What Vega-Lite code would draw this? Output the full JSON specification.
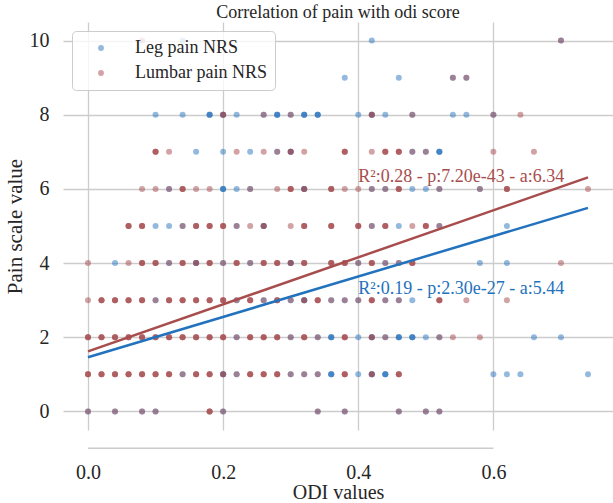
{
"$schema": "https://vega.github.io/schema/vega-lite/v6.json",
"width": 550, "height": 408,
"autosize": "none",
"padding": {"left": 63, "top": 22, "right": 0, "bottom": 73},
"background": "white",
"config": {"font": "Liberation Serif", "view": {"stroke": null},
  "axis": {"gridColor": "#cccccc", "gridWidth": 1.3, "labelColor": "#262626", "titleColor": "#262626", "titleFontWeight": "normal", "labelFontSize": 20, "titleFontSize": 21, "domain": false, "ticks": false}},
"title": {"text": "Correlation of pain with odi score", "fontSize": 18, "fontWeight": "normal", "color": "#262626", "offset": 0, "anchor": "middle"},
"datasets": {
"leg": [
{"odi":0.14,"pain":10},{"odi":0.42,"pain":10},{"odi":0.7,"pain":10},
{"odi":0.38,"pain":9},{"odi":0.46,"pain":9},{"odi":0.54,"pain":9},{"odi":0.56,"pain":9},
{"odi":0.1,"pain":8},{"odi":0.14,"pain":8},{"odi":0.18,"pain":8},{"odi":0.18,"pain":8},{"odi":0.18,"pain":8},{"odi":0.2,"pain":8},{"odi":0.2,"pain":8},{"odi":0.22,"pain":8},{"odi":0.26,"pain":8},{"odi":0.28,"pain":8},{"odi":0.28,"pain":8},{"odi":0.28,"pain":8},{"odi":0.3,"pain":8},{"odi":0.32,"pain":8},{"odi":0.32,"pain":8},{"odi":0.32,"pain":8},{"odi":0.34,"pain":8},{"odi":0.34,"pain":8},{"odi":0.34,"pain":8},{"odi":0.4,"pain":8},{"odi":0.42,"pain":8},{"odi":0.42,"pain":8},{"odi":0.44,"pain":8},{"odi":0.48,"pain":8},{"odi":0.54,"pain":8},{"odi":0.56,"pain":8},{"odi":0.6,"pain":8},
{"odi":0.16,"pain":7},{"odi":0.2,"pain":7},{"odi":0.24,"pain":7},{"odi":0.28,"pain":7},{"odi":0.3,"pain":7},{"odi":0.3,"pain":7},{"odi":0.48,"pain":7},{"odi":0.5,"pain":7},{"odi":0.52,"pain":7},{"odi":0.52,"pain":7},{"odi":0.52,"pain":7},
{"odi":0.12,"pain":6},{"odi":0.2,"pain":6},{"odi":0.2,"pain":6},{"odi":0.2,"pain":6},{"odi":0.22,"pain":6},{"odi":0.24,"pain":6},{"odi":0.32,"pain":6},{"odi":0.32,"pain":6},{"odi":0.42,"pain":6},{"odi":0.44,"pain":6},{"odi":0.48,"pain":6},{"odi":0.5,"pain":6},{"odi":0.52,"pain":6},{"odi":0.58,"pain":6},
{"odi":0.1,"pain":5},{"odi":0.12,"pain":5},{"odi":0.14,"pain":5},{"odi":0.22,"pain":5},{"odi":0.26,"pain":5},{"odi":0.26,"pain":5},{"odi":0.42,"pain":5},{"odi":0.46,"pain":5},{"odi":0.52,"pain":5},{"odi":0.62,"pain":5},
{"odi":0.04,"pain":4},{"odi":0.12,"pain":4},{"odi":0.16,"pain":4},{"odi":0.16,"pain":4},{"odi":0.2,"pain":4},{"odi":0.24,"pain":4},{"odi":0.3,"pain":4},{"odi":0.3,"pain":4},{"odi":0.4,"pain":4},{"odi":0.44,"pain":4},{"odi":0.46,"pain":4},{"odi":0.58,"pain":4},{"odi":0.62,"pain":4},
{"odi":0.1,"pain":3},{"odi":0.22,"pain":3},{"odi":0.26,"pain":3},{"odi":0.3,"pain":3},{"odi":0.32,"pain":3},{"odi":0.32,"pain":3},{"odi":0.36,"pain":3},{"odi":0.38,"pain":3},{"odi":0.4,"pain":3},{"odi":0.44,"pain":3},{"odi":0.46,"pain":3},{"odi":0.48,"pain":3},
{"odi":0.22,"pain":2},{"odi":0.3,"pain":2},{"odi":0.34,"pain":2},{"odi":0.36,"pain":2},{"odi":0.36,"pain":2},{"odi":0.36,"pain":2},{"odi":0.4,"pain":2},{"odi":0.42,"pain":2},{"odi":0.42,"pain":2},{"odi":0.44,"pain":2},{"odi":0.46,"pain":2},{"odi":0.46,"pain":2},{"odi":0.46,"pain":2},{"odi":0.48,"pain":2},{"odi":0.48,"pain":2},{"odi":0.48,"pain":2},{"odi":0.5,"pain":2},{"odi":0.52,"pain":2},{"odi":0.66,"pain":2},{"odi":0.7,"pain":2},
{"odi":0.14,"pain":1},{"odi":0.2,"pain":1},{"odi":0.2,"pain":1},{"odi":0.22,"pain":1},{"odi":0.3,"pain":1},{"odi":0.32,"pain":1},{"odi":0.34,"pain":1},{"odi":0.36,"pain":1},{"odi":0.36,"pain":1},{"odi":0.36,"pain":1},{"odi":0.4,"pain":1},{"odi":0.42,"pain":1},{"odi":0.42,"pain":1},{"odi":0.44,"pain":1},{"odi":0.44,"pain":1},{"odi":0.44,"pain":1},{"odi":0.6,"pain":1},{"odi":0.62,"pain":1},{"odi":0.64,"pain":1},{"odi":0.74,"pain":1},
{"odi":0,"pain":0},{"odi":0.04,"pain":0},{"odi":0.08,"pain":0},{"odi":0.1,"pain":0},{"odi":0.2,"pain":0},{"odi":0.34,"pain":0},{"odi":0.38,"pain":0},{"odi":0.46,"pain":0},{"odi":0.5,"pain":0},{"odi":0.52,"pain":0}
],
"lum": [
{"odi":0.08,"pain":10},{"odi":0.7,"pain":10},
{"odi":0.54,"pain":9},{"odi":0.56,"pain":9},
{"odi":0.2,"pain":8},{"odi":0.2,"pain":8},{"odi":0.26,"pain":8},{"odi":0.3,"pain":8},{"odi":0.42,"pain":8},{"odi":0.42,"pain":8},{"odi":0.48,"pain":8},{"odi":0.6,"pain":8},{"odi":0.64,"pain":8},
{"odi":0.1,"pain":7},{"odi":0.1,"pain":7},{"odi":0.1,"pain":7},{"odi":0.12,"pain":7},{"odi":0.22,"pain":7},{"odi":0.26,"pain":7},{"odi":0.28,"pain":7},{"odi":0.3,"pain":7},{"odi":0.3,"pain":7},{"odi":0.32,"pain":7},{"odi":0.38,"pain":7},{"odi":0.38,"pain":7},{"odi":0.38,"pain":7},{"odi":0.42,"pain":7},{"odi":0.44,"pain":7},{"odi":0.44,"pain":7},{"odi":0.44,"pain":7},{"odi":0.46,"pain":7},{"odi":0.46,"pain":7},{"odi":0.46,"pain":7},{"odi":0.48,"pain":7},{"odi":0.5,"pain":7},{"odi":0.6,"pain":7},{"odi":0.66,"pain":7},
{"odi":0.08,"pain":6},{"odi":0.1,"pain":6},{"odi":0.12,"pain":6},{"odi":0.14,"pain":6},{"odi":0.14,"pain":6},{"odi":0.14,"pain":6},{"odi":0.16,"pain":6},{"odi":0.18,"pain":6},{"odi":0.24,"pain":6},{"odi":0.28,"pain":6},{"odi":0.3,"pain":6},{"odi":0.3,"pain":6},{"odi":0.3,"pain":6},{"odi":0.32,"pain":6},{"odi":0.32,"pain":6},{"odi":0.36,"pain":6},{"odi":0.36,"pain":6},{"odi":0.36,"pain":6},{"odi":0.38,"pain":6},{"odi":0.4,"pain":6},{"odi":0.42,"pain":6},{"odi":0.44,"pain":6},{"odi":0.46,"pain":6},{"odi":0.46,"pain":6},{"odi":0.46,"pain":6},{"odi":0.52,"pain":6},{"odi":0.58,"pain":6},{"odi":0.62,"pain":6},{"odi":0.62,"pain":6},{"odi":0.62,"pain":6},{"odi":0.74,"pain":6},
{"odi":0.06,"pain":5},{"odi":0.06,"pain":5},{"odi":0.06,"pain":5},{"odi":0.08,"pain":5},{"odi":0.08,"pain":5},{"odi":0.08,"pain":5},{"odi":0.14,"pain":5},{"odi":0.16,"pain":5},{"odi":0.16,"pain":5},{"odi":0.16,"pain":5},{"odi":0.18,"pain":5},{"odi":0.18,"pain":5},{"odi":0.18,"pain":5},{"odi":0.2,"pain":5},{"odi":0.2,"pain":5},{"odi":0.2,"pain":5},{"odi":0.22,"pain":5},{"odi":0.24,"pain":5},{"odi":0.26,"pain":5},{"odi":0.26,"pain":5},{"odi":0.3,"pain":5},{"odi":0.32,"pain":5},{"odi":0.32,"pain":5},{"odi":0.32,"pain":5},{"odi":0.36,"pain":5},{"odi":0.36,"pain":5},{"odi":0.36,"pain":5},{"odi":0.4,"pain":5},{"odi":0.4,"pain":5},{"odi":0.4,"pain":5},{"odi":0.42,"pain":5},{"odi":0.44,"pain":5},{"odi":0.44,"pain":5},{"odi":0.44,"pain":5},{"odi":0.48,"pain":5},{"odi":0.5,"pain":5},{"odi":0.5,"pain":5},{"odi":0.5,"pain":5},{"odi":0.52,"pain":5},
{"odi":0,"pain":4},{"odi":0.06,"pain":4},{"odi":0.08,"pain":4},{"odi":0.08,"pain":4},{"odi":0.08,"pain":4},{"odi":0.1,"pain":4},{"odi":0.1,"pain":4},{"odi":0.1,"pain":4},{"odi":0.12,"pain":4},{"odi":0.14,"pain":4},{"odi":0.14,"pain":4},{"odi":0.14,"pain":4},{"odi":0.16,"pain":4},{"odi":0.16,"pain":4},{"odi":0.18,"pain":4},{"odi":0.18,"pain":4},{"odi":0.18,"pain":4},{"odi":0.2,"pain":4},{"odi":0.22,"pain":4},{"odi":0.22,"pain":4},{"odi":0.22,"pain":4},{"odi":0.24,"pain":4},{"odi":0.26,"pain":4},{"odi":0.26,"pain":4},{"odi":0.26,"pain":4},{"odi":0.28,"pain":4},{"odi":0.28,"pain":4},{"odi":0.28,"pain":4},{"odi":0.3,"pain":4},{"odi":0.3,"pain":4},{"odi":0.32,"pain":4},{"odi":0.32,"pain":4},{"odi":0.32,"pain":4},{"odi":0.36,"pain":4},{"odi":0.36,"pain":4},{"odi":0.36,"pain":4},{"odi":0.38,"pain":4},{"odi":0.38,"pain":4},{"odi":0.38,"pain":4},{"odi":0.4,"pain":4},{"odi":0.42,"pain":4},{"odi":0.42,"pain":4},{"odi":0.42,"pain":4},{"odi":0.44,"pain":4},{"odi":0.46,"pain":4},{"odi":0.48,"pain":4},{"odi":0.48,"pain":4},{"odi":0.48,"pain":4},{"odi":0.7,"pain":4},
{"odi":0,"pain":3},{"odi":0.02,"pain":3},{"odi":0.02,"pain":3},{"odi":0.02,"pain":3},{"odi":0.04,"pain":3},{"odi":0.04,"pain":3},{"odi":0.04,"pain":3},{"odi":0.06,"pain":3},{"odi":0.06,"pain":3},{"odi":0.06,"pain":3},{"odi":0.08,"pain":3},{"odi":0.08,"pain":3},{"odi":0.08,"pain":3},{"odi":0.1,"pain":3},{"odi":0.12,"pain":3},{"odi":0.12,"pain":3},{"odi":0.12,"pain":3},{"odi":0.14,"pain":3},{"odi":0.14,"pain":3},{"odi":0.14,"pain":3},{"odi":0.16,"pain":3},{"odi":0.16,"pain":3},{"odi":0.16,"pain":3},{"odi":0.18,"pain":3},{"odi":0.18,"pain":3},{"odi":0.18,"pain":3},{"odi":0.2,"pain":3},{"odi":0.2,"pain":3},{"odi":0.2,"pain":3},{"odi":0.22,"pain":3},{"odi":0.24,"pain":3},{"odi":0.24,"pain":3},{"odi":0.24,"pain":3},{"odi":0.26,"pain":3},{"odi":0.28,"pain":3},{"odi":0.28,"pain":3},{"odi":0.28,"pain":3},{"odi":0.3,"pain":3},{"odi":0.32,"pain":3},{"odi":0.32,"pain":3},{"odi":0.34,"pain":3},{"odi":0.34,"pain":3},{"odi":0.34,"pain":3},{"odi":0.36,"pain":3},{"odi":0.38,"pain":3},{"odi":0.4,"pain":3},{"odi":0.42,"pain":3},{"odi":0.42,"pain":3},{"odi":0.42,"pain":3},{"odi":0.44,"pain":3},{"odi":0.46,"pain":3},{"odi":0.52,"pain":3},{"odi":0.52,"pain":3},{"odi":0.52,"pain":3},{"odi":0.56,"pain":3},{"odi":0.62,"pain":3},
{"odi":0,"pain":2},{"odi":0,"pain":2},{"odi":0,"pain":2},{"odi":0.02,"pain":2},{"odi":0.02,"pain":2},{"odi":0.02,"pain":2},{"odi":0.04,"pain":2},{"odi":0.04,"pain":2},{"odi":0.04,"pain":2},{"odi":0.06,"pain":2},{"odi":0.06,"pain":2},{"odi":0.06,"pain":2},{"odi":0.08,"pain":2},{"odi":0.08,"pain":2},{"odi":0.08,"pain":2},{"odi":0.1,"pain":2},{"odi":0.1,"pain":2},{"odi":0.1,"pain":2},{"odi":0.12,"pain":2},{"odi":0.12,"pain":2},{"odi":0.12,"pain":2},{"odi":0.14,"pain":2},{"odi":0.14,"pain":2},{"odi":0.14,"pain":2},{"odi":0.16,"pain":2},{"odi":0.16,"pain":2},{"odi":0.16,"pain":2},{"odi":0.18,"pain":2},{"odi":0.18,"pain":2},{"odi":0.18,"pain":2},{"odi":0.2,"pain":2},{"odi":0.2,"pain":2},{"odi":0.2,"pain":2},{"odi":0.22,"pain":2},{"odi":0.24,"pain":2},{"odi":0.24,"pain":2},{"odi":0.24,"pain":2},{"odi":0.26,"pain":2},{"odi":0.26,"pain":2},{"odi":0.26,"pain":2},{"odi":0.28,"pain":2},{"odi":0.28,"pain":2},{"odi":0.28,"pain":2},{"odi":0.3,"pain":2},{"odi":0.32,"pain":2},{"odi":0.32,"pain":2},{"odi":0.32,"pain":2},{"odi":0.34,"pain":2},{"odi":0.38,"pain":2},{"odi":0.38,"pain":2},{"odi":0.38,"pain":2},{"odi":0.42,"pain":2},{"odi":0.42,"pain":2},{"odi":0.44,"pain":2},{"odi":0.52,"pain":2},{"odi":0.54,"pain":2},{"odi":0.58,"pain":2},
{"odi":0,"pain":1},{"odi":0,"pain":1},{"odi":0,"pain":1},{"odi":0.02,"pain":1},{"odi":0.02,"pain":1},{"odi":0.02,"pain":1},{"odi":0.04,"pain":1},{"odi":0.04,"pain":1},{"odi":0.04,"pain":1},{"odi":0.06,"pain":1},{"odi":0.06,"pain":1},{"odi":0.06,"pain":1},{"odi":0.08,"pain":1},{"odi":0.08,"pain":1},{"odi":0.08,"pain":1},{"odi":0.1,"pain":1},{"odi":0.1,"pain":1},{"odi":0.1,"pain":1},{"odi":0.12,"pain":1},{"odi":0.12,"pain":1},{"odi":0.12,"pain":1},{"odi":0.14,"pain":1},{"odi":0.16,"pain":1},{"odi":0.16,"pain":1},{"odi":0.16,"pain":1},{"odi":0.18,"pain":1},{"odi":0.18,"pain":1},{"odi":0.18,"pain":1},{"odi":0.2,"pain":1},{"odi":0.2,"pain":1},{"odi":0.22,"pain":1},{"odi":0.24,"pain":1},{"odi":0.24,"pain":1},{"odi":0.24,"pain":1},{"odi":0.26,"pain":1},{"odi":0.26,"pain":1},{"odi":0.26,"pain":1},{"odi":0.28,"pain":1},{"odi":0.28,"pain":1},{"odi":0.28,"pain":1},{"odi":0.3,"pain":1},{"odi":0.32,"pain":1},{"odi":0.34,"pain":1},{"odi":0.38,"pain":1},{"odi":0.38,"pain":1},{"odi":0.38,"pain":1},{"odi":0.42,"pain":1},{"odi":0.42,"pain":1},{"odi":0.46,"pain":1},{"odi":0.46,"pain":1},{"odi":0.46,"pain":1},
{"odi":0,"pain":0},{"odi":0.04,"pain":0},{"odi":0.08,"pain":0},{"odi":0.1,"pain":0},{"odi":0.18,"pain":0},{"odi":0.18,"pain":0},{"odi":0.18,"pain":0},{"odi":0.2,"pain":0},{"odi":0.34,"pain":0},{"odi":0.38,"pain":0},{"odi":0.46,"pain":0},{"odi":0.5,"pain":0},{"odi":0.52,"pain":0}
]
},
"layer": [
{"data": {"name": "leg"},
 "mark": {"type": "circle", "size": 36, "opacity": 0.5},
 "encoding": {
  "x": {"field": "odi", "type": "quantitative", "scale": {"domain": [-0.037, 0.777], "nice": false, "zero": false},
        "axis": {"values": [0, 0.2, 0.4, 0.6], "format": ".1f", "offset": 18, "labelPadding": 14, "title": "ODI values", "titleFontSize": 20, "titlePadding": 0}},
  "y": {"field": "pain", "type": "quantitative", "scale": {"domain": [-0.5, 10.5], "nice": false, "zero": false},
        "axis": {"values": [0, 2, 4, 6, 8, 10], "labelPadding": 14, "title": "Pain scale value", "titlePadding": 4}},
  "color": {"datum": "Leg pain NRS", "type": "nominal",
   "scale": {"domain": ["Leg pain NRS", "Lumbar pain NRS"], "range": ["#2a74be", "#a3474b"]},
   "legend": {"orient": "none", "legendX": 9, "legendY": 9, "title": null, "labelFontSize": 18, "labelColor": "#262626",
     "symbolType": "circle", "symbolSize": 34, "symbolOpacity": 0.5, "padding": 8, "rowPadding": 7,
     "symbolOffset": 12, "labelOffset": 25, "strokeColor": "#cccccc", "fillColor": "rgba(255,255,255,0.8)", "cornerRadius": 4}}
 }},
{"data": {"name": "lum"},
 "mark": {"type": "circle", "size": 36, "opacity": 0.5},
 "encoding": {
  "x": {"field": "odi", "type": "quantitative"},
  "y": {"field": "pain", "type": "quantitative"},
  "color": {"datum": "Lumbar pain NRS", "type": "nominal"}
 }},
{"data": {"values": [{"odi": 0, "pain": 1.46}, {"odi": 0.74, "pain": 5.49}]},
 "mark": {"type": "line", "color": "#2272bd", "strokeWidth": 2.5},
 "encoding": {"x": {"field": "odi", "type": "quantitative"}, "y": {"field": "pain", "type": "quantitative"}}},
{"data": {"values": [{"odi": 0, "pain": 1.62}, {"odi": 0.74, "pain": 6.31}]},
 "mark": {"type": "line", "color": "#a84d4d", "strokeWidth": 2.5},
 "encoding": {"x": {"field": "odi", "type": "quantitative"}, "y": {"field": "pain", "type": "quantitative"}}},
{"data": {"values": [{"odi": 0.4, "pain": 6.31, "label": "R²:0.28 - p:7.20e-43 - a:6.34"}]},
 "mark": {"type": "text", "align": "left", "baseline": "middle", "fontSize": 18, "color": "#a84d4d"},
 "encoding": {"x": {"field": "odi", "type": "quantitative"}, "y": {"field": "pain", "type": "quantitative"}, "text": {"field": "label"}}},
{"data": {"values": [{"odi": 0.4, "pain": 3.3, "label": "R²:0.19 - p:2.30e-27 - a:5.44"}]},
 "mark": {"type": "text", "align": "left", "baseline": "middle", "fontSize": 18, "color": "#2272bd"},
 "encoding": {"x": {"field": "odi", "type": "quantitative"}, "y": {"field": "pain", "type": "quantitative"}, "text": {"field": "label"}}},
{"data": {"values": [{}]},
 "mark": {"type": "rule", "color": "#cccccc", "strokeWidth": 1.5},
 "encoding": {"x": {"datum": 0, "type": "quantitative"}, "x2": {"datum": 0.6}, "y": {"datum": -0.99, "type": "quantitative"}}}
]
}
